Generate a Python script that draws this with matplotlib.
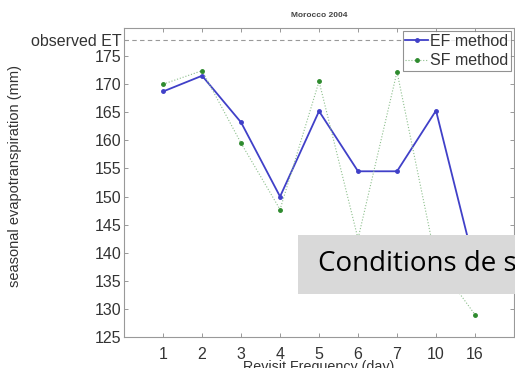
import matplotlib
matplotlib.use("Agg")
import matplotlib.pyplot as plt
from matplotlib.patches import Rectangle

# revisit frequency (days) and seasonal ET estimates (mm)
revisit_days = ["1", "2", "3", "4", "5", "6", "7", "10", "16"]
ef_method = [168.7, 171.5, 163.2, 150.0, 165.2, 154.5, 154.5, 165.3, 137.5]
sf_method = [170.0, 172.4, 159.5, 147.7, 170.5, 142.5, 172.2, 138.5, 129.0]
observed_et = 177.8
y_ticks = [125, 130, 135, 140, 145, 150, 155, 160, 165, 170, 175]

plt.rcParams['font.family'] = ['Liberation Sans', 'DejaVu Sans']

fig = plt.figure(figsize=(5.15, 3.68), dpi=100)
ax = fig.add_axes([0.241, 0.084, 0.757, 0.840])

x_pos = list(range(1, len(revisit_days) + 1))

ax.axhline(observed_et, color='#999999', linestyle=(0, (4, 3)), linewidth=0.8)
ax.plot(x_pos, ef_method, color='#4040c8', linewidth=1.3, marker='.',
        markersize=5, label='EF method')
ax.plot(x_pos, sf_method, color='#8cbf8c', linewidth=0.8, linestyle=':',
        marker='.', markersize=5, markerfacecolor='#2e8b2e',
        markeredgecolor='#2e8b2e', label='SF method')

ax.set_xlim(0, 10)
ax.set_ylim(125, 180)
ax.set_xticks(x_pos)
ax.set_xticklabels(revisit_days)
ax.set_yticks(y_ticks + [observed_et])
ax.set_yticklabels([str(v) for v in y_ticks] + ['observed ET'])

ax.tick_params(direction='in', length=3, width=0.6, color='#888888',
               labelsize=11.5, labelcolor='#333333', top=True, right=True, pad=2)
ax.tick_params(axis='x', pad=7)
for s in ax.spines.values():
    s.set_color('#999999')
    s.set_linewidth(0.8)

ax.set_xlabel('Revisit Frequency (day)', fontsize=10.3, color='#333333', labelpad=-1)
ax.set_ylabel('seasonal evapotranspiration (mm)', fontsize=10.5, color='#333333')
ax.yaxis.set_label_coords(-0.262, 0.52)
ax.set_title('Morocco 2004', fontsize=6, color='#444444', pad=8, fontweight='bold')

leg = ax.legend(loc='upper right', fontsize=11.5, frameon=True, fancybox=False,
                borderpad=0.15, handlelength=1.4, handletextpad=0.15,
                labelspacing=0.3, borderaxespad=0.2)
leg.get_frame().set_edgecolor('#777777')
leg.get_frame().set_linewidth(0.8)
for t in leg.get_texts():
    t.set_color('#333333')

# slide overlay caption
fig.patches.append(Rectangle((0.579, 0.201), 0.45, 0.160, transform=fig.transFigure,
                             facecolor='#d9d9d9', edgecolor='none', zorder=5))
fig.text(0.617, 0.283, 'Conditions de s', fontsize=20, family=['Open Sans', 'DejaVu Sans'],
         color='black', va='center', ha='left', zorder=6)

fig.savefig('out.png', dpi=100)
